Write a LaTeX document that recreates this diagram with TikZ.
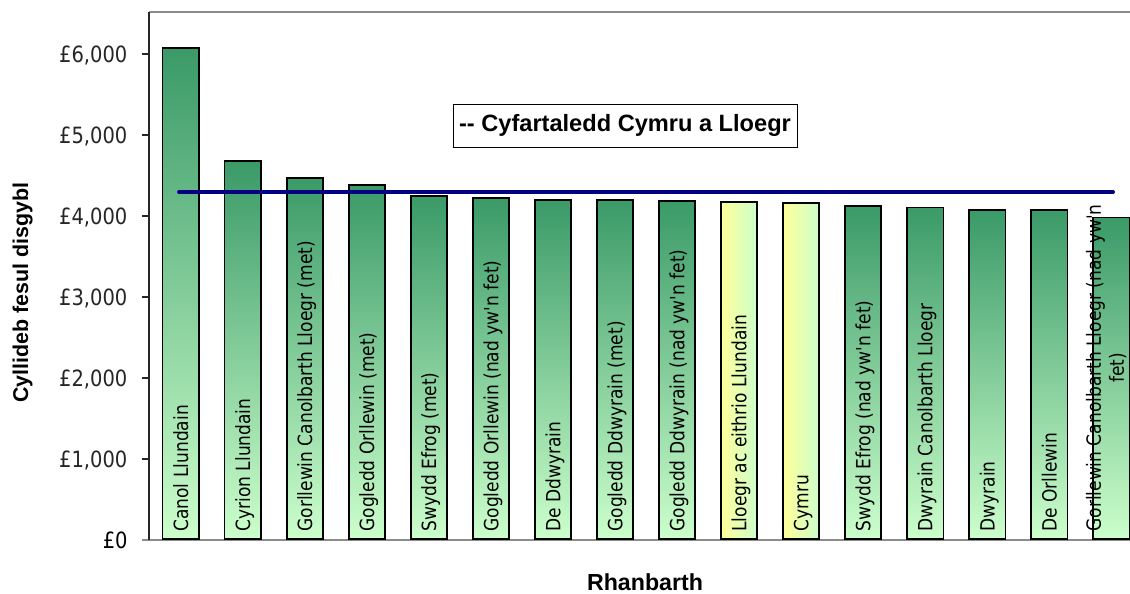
\documentclass[tikz,border=0pt]{standalone}
\usepackage{fontspec}
\usepackage{xcolor}
\usetikzlibrary{positioning}
\newfontfamily\tahomaish[FakeStretch=0.87]{DejaVu Sans}
\newfontfamily\arialish{Liberation Sans}
\definecolor{bartop}{RGB}{58,154,104}
\definecolor{barbot}{RGB}{204,255,204}
\definecolor{baryel}{RGB}{255,255,153}
\definecolor{meanblue}{RGB}{0,0,128}
\definecolor{framegray}{RGB}{140,140,140}
\tikzset{mychart/.style={x=0.5pt, y=-0.5pt, font=\tahomaish},
gbar/.style={draw=black, line width=0.9pt, anchor=south, inner sep=0pt,
minimum width=18.25pt, top color=bartop, bottom color=barbot},
ybar/.style={gbar, left color=baryel, right color=barbot},
barlab/.style={rotate=90, anchor=west, inner sep=0pt,
font=\tahomaish\fontsize{9.8}{11.5}\selectfont, text height=0.73em, text depth=0pt},
ticklab/.style={left=7pt, inner sep=0pt, text depth=0pt,
font=\tahomaish\fontsize{11.2}{13}\selectfont},
title/.style={font=\arialish\bfseries\fontsize{#1}{14}\selectfont, inner sep=0pt}}

\begin{document}
\begin{tikzpicture}[mychart]
\useasboundingbox (0,0) rectangle (1130,594);
\fill[white] (0,0) rectangle (1130,594);
\draw[framegray, line width=0.7pt] (149,12) -- (1130,12);
\draw[framegray, line width=0.9pt] (142,540) -- (1130,540);
\draw[black!85, line width=0.6pt] (149,12) -- (149,540);
\node[ticklab] (t0) at (142,540) {£0};
\foreach \v in {1,...,6}
  \draw[black!85, line width=0.6pt] (142,540-81*\v) -- (149,540-81*\v)
    node[ticklab, at start] (t\v) {£\v,000};
\foreach \i/\val/\st/\lab in {1/6060/gbar/Canol Llundain,
    2/4665/gbar/Cyrion Llundain,
    3/4460/gbar/Gorllewin Canolbarth Lloegr (met),
    4/4370/gbar/Gogledd Orllewin (met),
    5/4235/gbar/Swydd Efrog (met),
    6/4210/gbar/Gogledd Orllewin (nad yw'n fet),
    7/4190/gbar/De Ddwyrain,
    8/4185/gbar/Gogledd Ddwyrain (met),
    9/4175/gbar/Gogledd Ddwyrain (nad yw'n fet),
    10/4165/ybar/Lloegr ac eithrio Llundain,
    11/4145/ybar/Cymru,
    12/4110/gbar/Swydd Efrog (nad yw'n fet),
    13/4095/gbar/Dwyrain Canolbarth Lloegr,
    14/4065/gbar/Dwyrain,
    15/4060/gbar/De Orllewin}{
  \node[\st, minimum height=\val*0.0405pt] (b\i) at ({180.8+62.03*(\i-1)},540) {};
  \node[barlab] (l\i) at ([yshift=4pt]b\i.south) {\lab};
}
\node[gbar, minimum height=3970*0.0405pt] (b16) at ({180.8+62.03*15},540) {};
\node[barlab, text height=, text depth=, align=center] (l16) at ([xshift=-2.5pt, yshift=4pt]b16.south)
  {Gorllewin Canolbarth Lloegr (nad yw'n\\fet)};
\coordinate (mstart) at (179,192);
\coordinate (mend) at (1113,192);
\draw[meanblue, line width=2pt, line cap=round] (mstart) -- (mend);
\node[draw, line width=0.5pt, minimum width=172pt, minimum height=21.5pt,
  title=11.8] (legend) at (625,125.5) {-- Cyfartaledd Cymru a Lloegr};
\node[title=10.7, rotate=90, anchor=base west] (ytitle) at (28,403) {Cyllideb fesul disgybl};
\node[title=11.6, anchor=base] (xtitle) at (645,590) {Rhanbarth};
\end{tikzpicture}
\end{document}
